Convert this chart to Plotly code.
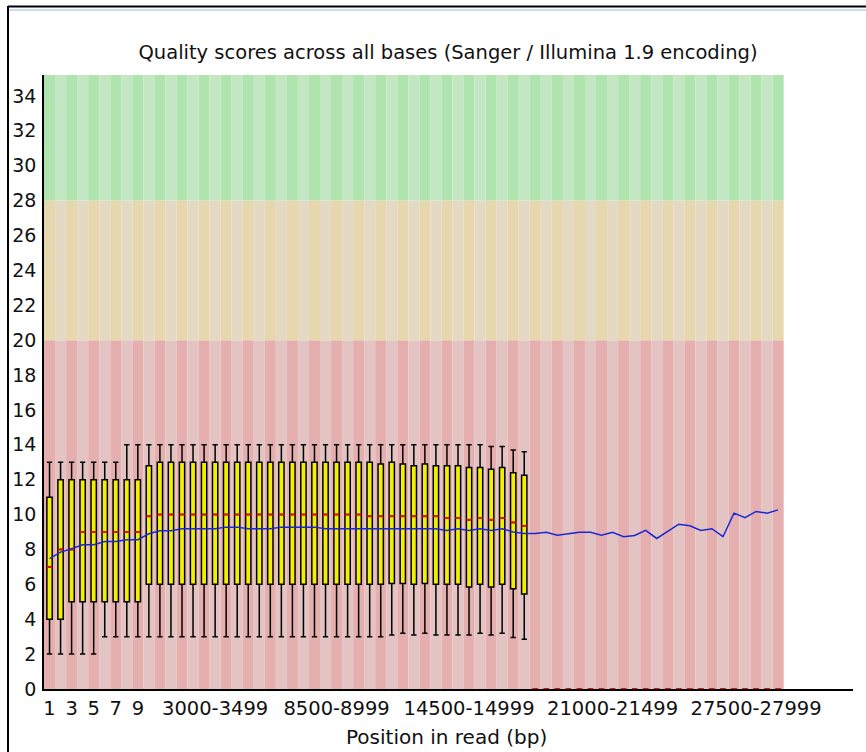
import plotly.graph_objects as go

# ---- data -------------------------------------------------------------
# Read positions: bases 1-9 individually, then 10-499, then 500 bp windows
positions = [str(i) for i in range(1, 10)] + ["10-499"] + [
    f"{s}-{s + 499}" for s in range(500, 29000, 500)
]

# Phred quality summary per position group (Sanger / Illumina 1.9)
whisker_low = [
    2, 2, 2, 2, 2, 3, 3, 3, 3, 3,
    3, 3, 3, 3, 3, 3, 3, 3, 3, 3,
    3, 3, 3, 3, 3, 3, 3, 3, 3, 3,
    3, 3.1, 3.2, 3.1, 3.2, 3.1, 3.1, 3.1, 3.1, 3.2,
    3.1, 3.2, 2.95, 2.85, 0, 0, 0, 0, 0, 0,
    0, 0, 0, 0, 0, 0, 0, 0, 0, 0,
    0, 0, 0, 0, 0, 0, 0,
]
lower_quartile = [
    4, 4, 5, 5, 5, 5, 5, 5, 5, 6,
    6, 6, 6, 6, 6, 6, 6, 6, 6, 6,
    6, 6, 6, 6, 6, 6, 6, 6, 6, 6,
    6, 6.05, 6.05, 6, 6.05, 6, 6, 6, 5.85, 6,
    5.85, 6, 5.75, 5.45, 0, 0, 0, 0, 0, 0,
    0, 0, 0, 0, 0, 0, 0, 0, 0, 0,
    0, 0, 0, 0, 0, 0, 0,
]
median = [
    7, 8, 8, 9, 9, 9, 9, 9, 9, 9.9,
    10, 10, 10, 10, 10, 10, 10, 10, 10, 10,
    10, 10, 10, 10, 10, 10, 10, 10, 10, 9.9,
    9.9, 9.9, 9.9, 9.9, 9.9, 9.9, 9.8, 9.8, 9.7, 9.8,
    9.7, 9.8, 9.55, 9.35, 0, 0, 0, 0, 0, 0,
    0, 0, 0, 0, 0, 0, 0, 0, 0, 0,
    0, 0, 0, 0, 0, 0, 0,
]
upper_quartile = [
    11, 12, 12, 12, 12, 12, 12, 12, 12, 12.8,
    13, 13, 13, 13, 13, 13, 13, 13, 13, 13,
    13, 13, 13, 13, 13, 13, 13, 13, 13, 13,
    12.9, 13, 12.9, 12.8, 12.9, 12.8, 12.8, 12.8, 12.7, 12.7,
    12.6, 12.7, 12.4, 12.25, 0, 0, 0, 0, 0, 0,
    0, 0, 0, 0, 0, 0, 0, 0, 0, 0,
    0, 0, 0, 0, 0, 0, 0,
]
whisker_high = [
    13, 13, 13, 13, 13, 13, 13, 14, 14, 14,
    14, 14, 14, 14, 14, 14, 14, 14, 14, 14,
    14, 14, 14, 14, 14, 14, 14, 14, 14, 14,
    14, 14, 14, 14, 14, 14, 14, 14, 14, 14,
    13.9, 13.9, 13.7, 13.6, 0, 0, 0, 0, 0, 0,
    0, 0, 0, 0, 0, 0, 0, 0, 0, 0,
    0, 0, 0, 0, 0, 0, 0,
]
mean_quality = [
    7.47, 7.85, 8.04, 8.27, 8.27, 8.46, 8.46, 8.56, 8.56, 8.9,
    9.07, 9.07, 9.19, 9.19, 9.19, 9.19, 9.28, 9.28, 9.19, 9.19,
    9.19, 9.28, 9.28, 9.28, 9.28, 9.19, 9.19, 9.19, 9.19, 9.19,
    9.19, 9.19, 9.19, 9.19, 9.19, 9.19, 9.09, 9.19, 9.09, 9.19,
    9.09, 9.19, 9.0, 8.92, 8.92, 8.99, 8.82, 8.92, 8.99, 8.99,
    8.82, 8.99, 8.73, 8.8, 9.09, 8.63, 9.05, 9.45, 9.36, 9.09,
    9.19, 8.73, 10.08, 9.82, 10.18, 10.08, 10.27,
]

# labelled positions on the x axis
tick_positions = ["1", "3", "5", "7", "9", "3000-3499", "8500-8999",
                  "14500-14999", "21000-21499", "27500-27999"]
y_ticks = list(range(0, 35, 2))

# quality bands: poor < 20 <= reasonable < 28 <= good
band_edges = [0, 20, 28, 35.2]
band_colors = [
    ("rgb(230,175,175)", "rgb(228,195,195)"),
    ("rgb(230,215,175)", "rgb(228,218,195)"),
    ("rgb(175,228,175)", "rgb(195,230,195)"),
]

# ---- figure -----------------------------------------------------------
W, H = 866, 752
ML, MR, MT, MB = 44, 13, 75, 63
PW, PH = W - ML - MR, H - MT - MB


def px_x(p):
    return (p - ML) / PW


def px_y(p):
    return (H - MB - p) / PH


n = len(positions)
xs = list(range(1, n + 1))
box_w = 0.48

fig = go.Figure()

fig.add_trace(go.Box(
    x=xs, q1=lower_quartile, median=median, q3=upper_quartile,
    lowerfence=whisker_low, upperfence=whisker_high,
    width=box_w, whiskerwidth=1, boxpoints=False,
    fillcolor="rgb(240,240,0)", line=dict(color="black", width=1.5),
    showlegend=False, hoverinfo="skip",
))

# red median ticks across each box
mx, my = [], []
for k, m in zip(xs, median):
    mx += [k - box_w / 2, k + box_w / 2, None]
    my += [m, m, None]
fig.add_trace(go.Scatter(
    x=mx, y=my, mode="lines", line=dict(color="rgb(215,25,0)", width=2),
    showlegend=False, hoverinfo="skip",
))

# blue mean line
fig.add_trace(go.Scatter(
    x=xs, y=mean_quality, mode="lines",
    line=dict(color="rgb(25,40,215)", width=1.5),
    showlegend=False, hoverinfo="skip",
))

shapes = []
for k in xs:
    dark = (k % 2 == 1)
    for b in range(3):
        shapes.append(dict(
            type="rect", xref="x", yref="y", layer="below",
            x0=k - 0.5, x1=k + 0.5, y0=band_edges[b], y1=band_edges[b + 1],
            fillcolor=band_colors[b][0 if dark else 1], line=dict(width=0),
        ))

# window frame
shapes.append(dict(type="line", xref="paper", yref="paper",
                   x0=px_x(8), x1=px_x(866), y0=px_y(6.5), y1=px_y(6.5),
                   line=dict(color="black", width=2)))
shapes.append(dict(type="line", xref="paper", yref="paper",
                   x0=px_x(9), x1=px_x(866), y0=px_y(10), y1=px_y(10),
                   line=dict(color="rgb(200,220,242)", width=2)))
shapes.append(dict(type="line", xref="paper", yref="paper",
                   x0=px_x(8), x1=px_x(8), y0=px_y(6), y1=px_y(752),
                   line=dict(color="black", width=2)))

fig.update_layout(
    width=W, height=H,
    margin=dict(l=ML, r=MR, t=MT, b=MB),
    paper_bgcolor="white", plot_bgcolor="white",
    font=dict(family="DejaVu Sans", color="#111111"),
    title=dict(
        text="Quality scores across all bases (Sanger / Illumina 1.9 encoding)",
        x=448 / W, xanchor="center", xref="container",
        y=1 - 52 / H, yanchor="middle", yref="container",
        font=dict(size=19.5, color="#111111"),
    ),
    shapes=shapes,
    annotations=[dict(
        text="Position in read (bp)", xref="paper", yref="paper",
        x=px_x(446), y=px_y(737), xanchor="center", yanchor="middle",
        showarrow=False, font=dict(size=20, color="#111111"),
    )],
    xaxis=dict(
        range=[0.5, 0.5 + PW / 11.04], showgrid=False, zeroline=False,
        showline=True, linecolor="black", linewidth=1.5,
        tickmode="array",
        tickvals=[positions.index(t) + 1 for t in tick_positions],
        ticktext=tick_positions, ticks="", tickfont=dict(size=19.5),
        ticklabelstandoff=1,
        layer="below traces",
    ),
    yaxis=dict(
        range=[0, band_edges[-1]], showgrid=False, zeroline=False,
        showline=True, linecolor="black", linewidth=1.5,
        tickmode="array", tickvals=y_ticks, ticks="",
        tickfont=dict(size=19), ticklabelstandoff=2,
        layer="below traces",
    ),
)

fig.write_html("out.html")
